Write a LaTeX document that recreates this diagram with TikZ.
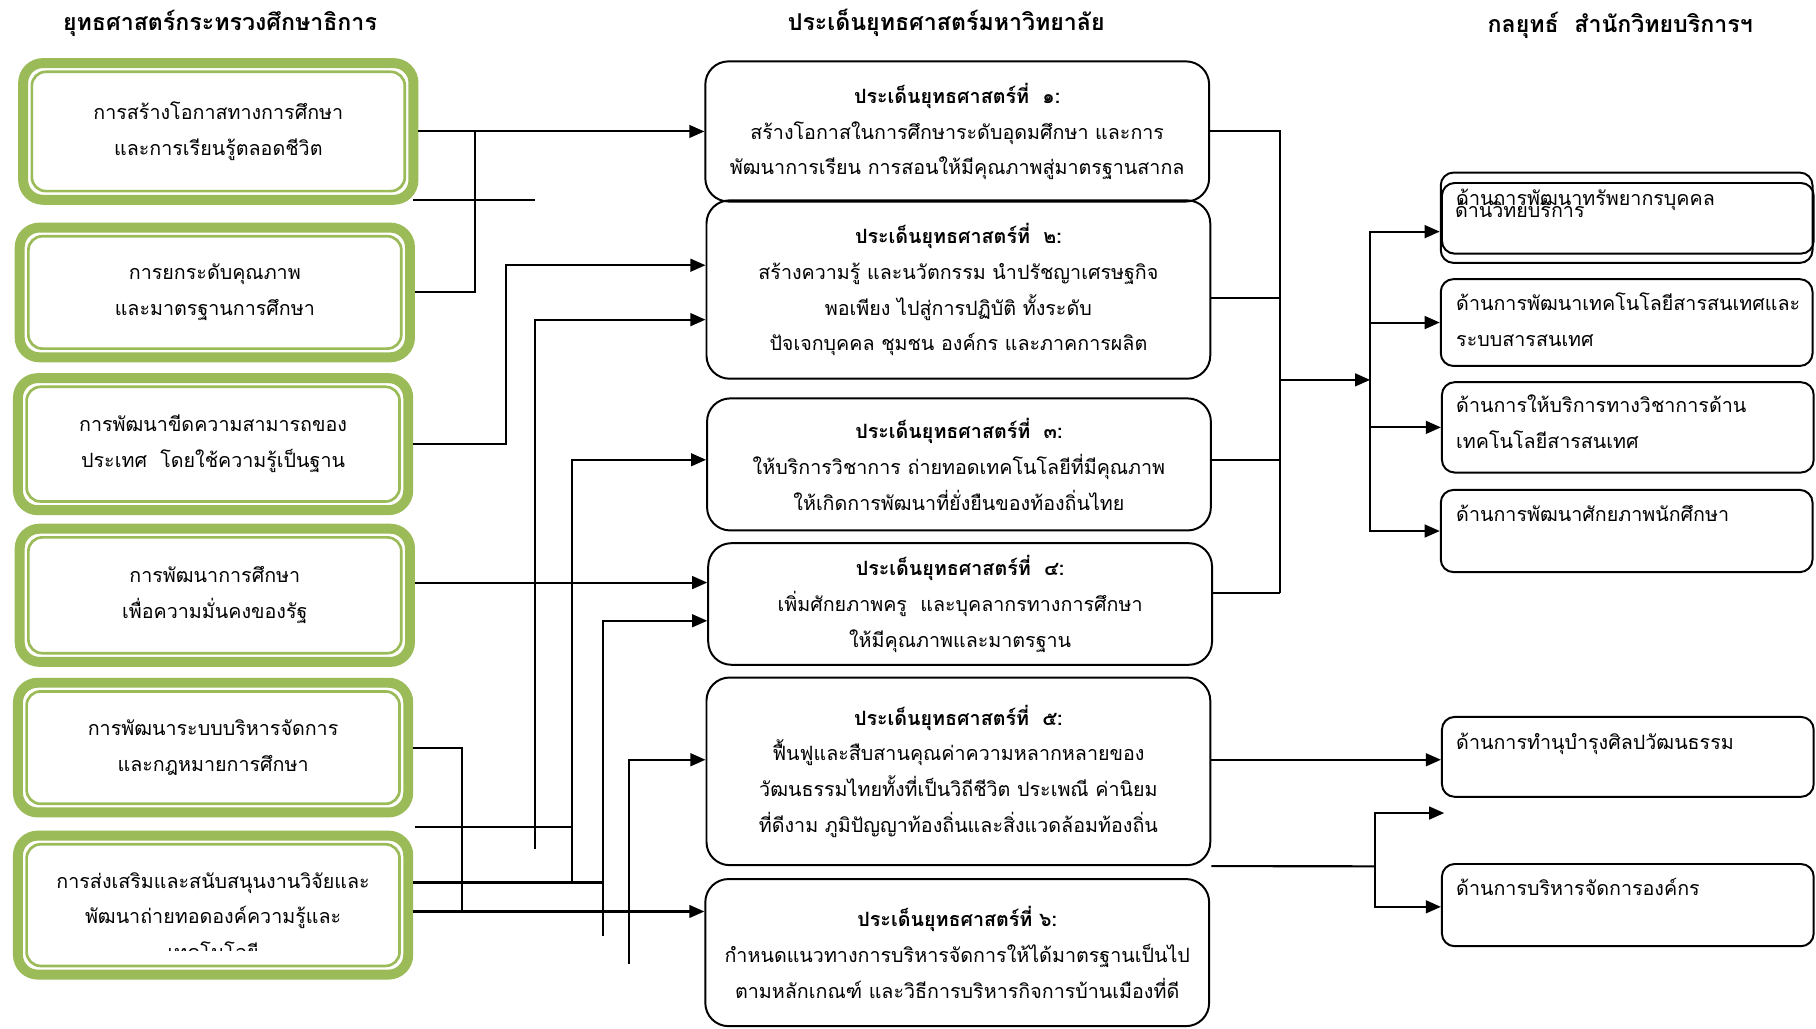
\documentclass[tikz,border=0pt]{standalone}
\usepackage{fontspec}
\setmainfont{Loma}[Script=Thai]
\usetikzlibrary{arrows.meta}
\definecolor{boxgreen}{HTML}{9BBB59}
\tikzset{
	thai/.style={font=\fontsize{17}{31}\selectfont},
	heading/.style={font=\fontsize{20}{24}\selectfont\bfseries},
	leftbox/.style={draw=boxgreen, line width=8.6pt, rounded corners=17pt, minimum width=337pt, align=center, thai},
	midbox/.style={draw, line width=1.7pt, rounded corners=20pt, minimum width=435pt, align=center, thai},
	rightbox/.style={draw, line width=1.7pt, rounded corners=11pt, minimum width=321pt},
	righttext/.style={anchor=base west, align=left, inner sep=0pt, thai},
	link/.style={line width=1.8pt},
	arr/.style={link, -{Triangle[length=13pt, width=11pt]}}
}
\begin{document}
\begin{tikzpicture}[x=1pt, y=-1pt]
		\useasboundingbox (0,0) rectangle (1568,888);
		\node[heading] (T1) at (190,20) {ยุทธศาสตร์กระทรวงศึกษาธิการ};
		\node[heading] (T2) at (817,20) {ประเด็นยุทธศาสตร์มหาวิทยาลัย};
		\node[heading] (T3) at (1399,22) {กลยุทธ์~~สำนักวิทยบริการฯ};

		\node[leftbox, minimum height=118pt] (L1) at (188.5,113.5) {การสร้างโอกาสทางการศึกษา\\และการเรียนรู้ตลอดชีวิต};
		\node[leftbox, minimum height=112pt] (L2) at (185.5,252.5) {การยกระดับคุณภาพ\\และมาตรฐานการศึกษา};
		\node[leftbox, minimum height=114pt] (L3) at (184,383.5) {การพัฒนาขีดความสามารถของ\\ประเทศ~~โดยใช้ความรู้เป็นฐาน};
		\node[leftbox, minimum height=115pt] (L4) at (185.5,514) {การพัฒนาการศึกษา\\เพื่อความมั่นคงของรัฐ};
		\node[leftbox, minimum height=112pt] (L5) at (184,645.5) {การพัฒนาระบบบริหารจัดการ\\และกฎหมายการศึกษา};
		\node[leftbox, minimum height=120pt] (L6) at (184,781.5) {};
		\begin{scope}
			\clip (20,740) rectangle (350,821);
			\node[thai, align=center] (L6text) at (184,791) {การส่งเสริมและสนับสนุนงานวิจัยและ\\พัฒนาถ่ายทอดองค์ความรู้และ\\เทคโนโลยี};
		\end{scope}
		\foreach \b in {L1,L2,L3,L4,L5,L6}
			\draw[boxgreen, line width=2.3pt, rounded corners=12pt] ([shift={(11.8,11.8)}]\b.north west) rectangle ([shift={(-11.8,-11.8)}]\b.south east);

		\node[midbox, minimum height=121pt] (M1) at (826.5,113.5) {{\bfseries ประเด็นยุทธศาสตร์ที่~~๑:}\\สร้างโอกาสในการศึกษาระดับอุดมศึกษา และการ\\พัฒนาการเรียน การสอนให้มีคุณภาพสู่มาตรฐานสากล};
		\node[midbox, minimum height=154pt] (M2) at (827.5,250) {{\bfseries ประเด็นยุทธศาสตร์ที่~~๒:}\\สร้างความรู้ และนวัตกรรม นำปรัชญาเศรษฐกิจ\\พอเพียง ไปสู่การปฏิบัติ ทั้งระดับ\\ปัจเจกบุคคล ชุมชน องค์กร และภาคการผลิต};
		\node[midbox, minimum height=114pt] (M3) at (828,401) {{\bfseries ประเด็นยุทธศาสตร์ที่~~๓:}\\ให้บริการวิชาการ ถ่ายทอดเทคโนโลยีที่มีคุณภาพ\\ให้เกิดการพัฒนาที่ยั่งยืนของท้องถิ่นไทย};
		\node[midbox, minimum height=105pt] (M4) at (829,521.5) {{\bfseries ประเด็นยุทธศาสตร์ที่~~๔:}\\เพิ่มศักยภาพครู~~และบุคลากรทางการศึกษา\\ให้มีคุณภาพและมาตรฐาน};
		\node[midbox, minimum height=162pt] (M5) at (827.5,666) {{\bfseries ประเด็นยุทธศาสตร์ที่~~๕:}\\ฟื้นฟูและสืบสานคุณค่าความหลากหลายของ\\วัฒนธรรมไทยทั้งที่เป็นวิถีชีวิต ประเพณี ค่านิยม\\ที่ดีงาม ภูมิปัญญาท้องถิ่นและสิ่งแวดล้อมท้องถิ่น};
		\node[midbox, minimum height=127pt] (M6) at (826.5,822.5) {{\bfseries ประเด็นยุทธศาสตร์ที่ ๖:}\\กำหนดแนวทางการบริหารจัดการให้ได้มาตรฐานเป็นไป\\ตามหลักเกณฑ์ และวิธีการบริหารกิจการบ้านเมืองที่ดี};

		\node[rightbox, minimum height=78pt] (R1a) at (1404.5,188) {};
		\node[rightbox, minimum height=61pt] (R1b) at (1405.5,188.5) {};
		\node[rightbox, minimum height=75pt] (R2) at (1404.5,278.5) {};
		\node[rightbox, minimum height=78pt] (R3) at (1405.5,369) {};
		\node[rightbox, minimum height=71pt] (R4) at (1404.5,458.5) {};
		\node[rightbox, minimum height=69pt] (R5) at (1405.5,653.5) {};
		\node[rightbox, minimum height=71pt] (R6) at (1405.5,781.5) {};
		\node[righttext] (R1at) at ([shift={(14,29)}]R1a.north west) {ด้านการพัฒนาทรัพยากรบุคคล};
		\node[righttext] (R1bt) at ([shift={(12,31)}]R1b.north west) {ด้านวิทยบริการ};
		\node[righttext] (R2t) at ([shift={(14,59)}]R2.north west) {ด้านการพัฒนาเทคโนโลยีสารสนเทศและ\\ระบบสารสนเทศ};
		\node[righttext] (R3t) at ([shift={(13,58)}]R3.north west) {ด้านการให้บริการทางวิชาการด้าน\\เทคโนโลยีสารสนเทศ};
		\node[righttext] (R4t) at ([shift={(14,28)}]R4.north west) {ด้านการพัฒนาศักยภาพนักศึกษา};
		\node[righttext] (R5t) at ([shift={(13,29)}]R5.north west) {ด้านการทำนุบำรุงศิลปวัฒนธรรม};
		\node[righttext] (R6t) at ([shift={(13,28)}]R6.north west) {ด้านการบริหารจัดการองค์กร};

		\coordinate (j12) at (410,113.5);
		\coordinate (s1) at (357,173);
		\coordinate (s2) at (462,173);
		\coordinate (b3) at (437,229);
		\coordinate (f1) at (462,733);
		\coordinate (g1) at (358,714);
		\coordinate (g2) at (494,714);
		\coordinate (f2) at (494,762);
		\coordinate (f3) at (521,808);
		\coordinate (g3) at (521,762);
		\coordinate (f4) at (543,832);
		\coordinate (g4) at (399,787);
		\coordinate (h1) at (1105,512);
		\coordinate (h2) at (1105,328);
		\coordinate (h3) at (1183,328);
		\coordinate (h4) at (1187,748);
		\coordinate (e1) at (1247,702);

		\draw[arr] (L1.east) -- (M1.west);
		\draw[link] (L2.east) -| (j12);
		\draw[link] (s1) -- (s2);
		\draw[arr] (L3.east) -| (b3) -- (b3 -| M2.west);
		\draw[arr] (f1) |- ([shift={(0,26)}]M2.west);
		\draw[link] (g1) -- (g2);
		\draw[arr] (f2) |- ([shift={(0,-4)}]M3.west);
		\draw[arr] ([shift={(0,-11)}]L4.east) -- ([shift={(0,-18.5)}]M4.west);
		\draw[arr] (f3) |- ([shift={(0,14.5)}]M4.west);
		\draw[link] ([shift={(0,-19.5)}]L6.east) -- (g3);
		\draw[arr] (f4) |- ([shift={(0,-10)}]M5.west);
		\draw[arr] ([shift={(0,5.5)}]L6.east) -- ([shift={(0,-35.5)}]M6.west);
		\draw[link] (L5.east) -| (g4);

		\draw[link] (M1.east) -| (h1);
		\foreach \m/\dy in {M2/7, M3/-4, M4/-9.5}
			\draw[link] ([shift={(0,\dy)}]\m.east) -| (h1);
		\draw[arr] (h2) -- (h3);
		\draw[arr] (h3) |- ([shift={(0,12)}]R1a.west);
		\foreach \r in {R2,R3,R4}
			\draw[arr] (h3) |- (\r.west);
		\draw[arr] ([shift={(0,-10)}]M5.east) -- ([shift={(0,2.5)}]R5.west);
		\draw[link] (M5.south east) -- (h4);
		\draw[arr] (h4) |- (e1);
		\draw[arr] (h4) |- ([shift={(0,1.5)}]R6.west);
\end{tikzpicture}
\end{document}
